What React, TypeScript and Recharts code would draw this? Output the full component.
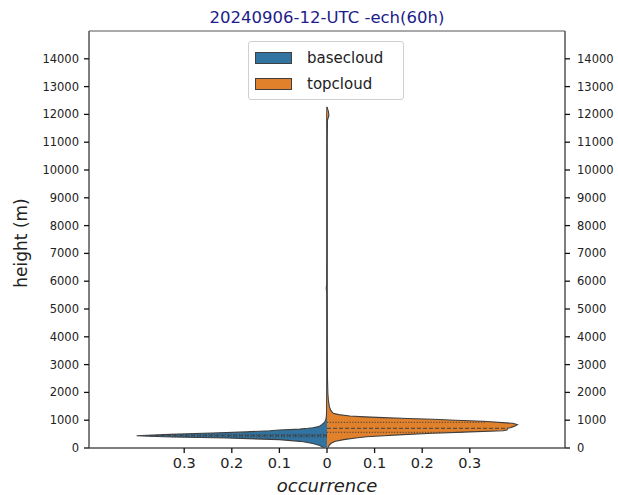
import React from 'react';
import { ComposedChart, Area, XAxis, YAxis, ReferenceLine, ReferenceArea } from 'recharts';

const title = '20240906-12-UTC -ech(60h)';
const seriesNames = ['basecloud', 'topcloud'];
const seriesColors = ['#3274a1', '#e1812c'];

// heights (m)
const heights = [0, 90, 160, 227, 240, 300, 360, 370, 405, 442, 480, 529, 540, 580, 620, 650, 680, 709, 730, 760, 790, 840, 880, 889, 961, 1000, 1033, 1060, 1091, 1120, 1152, 1200, 1249, 1350, 1486, 1700, 1968, 2500, 3500, 5000, 5600, 5750, 5900, 7000, 8500, 10000, 11000, 11800, 11950, 12100, 12200, 12270];
// occurrence density (left half violin)
const basecloud = [0.006, 0.015, 0.03, 0.05, 0.057, 0.10, 0.21, 0.24, 0.344, 0.40, 0.344, 0.26, 0.24, 0.17, 0.12, 0.10, 0.057, 0.04, 0.03, 0.02, 0.015, 0.011, 0.008, 0.0075, 0.004, 0.003, 0.0025, 0.002, 0.0018, 0.0015, 0.0013, 0.0012, 0.001, 0.0009, 0.0008, 0.0007, 0.0006, 0.0005, 0.0005, 0.0005, 0.0006, 0.0016, 0.0006, 0.0005, 0.0005, 0.0005, 0.0005, 0.0005, 0.0005, 0.0004, 0.0002, 0];
// occurrence density (right half violin)
const topcloud = [0.002, 0.004, 0.008, 0.015, 0.018, 0.035, 0.06, 0.065, 0.083, 0.12, 0.16, 0.222, 0.24, 0.30, 0.37, 0.378, 0.379, 0.38, 0.385, 0.39, 0.395, 0.40, 0.392, 0.39, 0.328, 0.27, 0.223, 0.17, 0.118, 0.08, 0.048, 0.025, 0.013, 0.008, 0.005, 0.003, 0.0018, 0.001, 0.0007, 0.0006, 0.0005, 0.0005, 0.0005, 0.0005, 0.0005, 0.0005, 0.0005, 0.001, 0.004, 0.003, 0.0012, 0];

// quartile lines: heights and widths
const baseQuartH = [400, 442, 490];
const baseQuartW = [0.33, 0.38, 0.33];
const topQuartH = [565, 709, 925];
const topQuartW = [0.285, 0.38, 0.335];

const xTicks = [-0.3, -0.2, -0.1, 0, 0.1, 0.2, 0.3];
const yTicks = [0, 1000, 2000, 3000, 4000, 5000, 6000, 7000, 8000, 9000, 10000, 11000, 12000, 13000, 14000];

const table = heights.map((h, i) => ({ h, base: -basecloud[i], top: topcloud[i] }));

const FONT = 'DejaVu Sans';
const EDGE = '#3f3f3f';

export default function App() {
  return (
    <div style={{ position: 'absolute', left: 0, top: 0, width: 618, height: 495, background: '#fff', fontFamily: FONT }}>
      <div style={{ position: 'absolute', left: 0, width: 654, top: 8, textAlign: 'center', fontSize: 16.5, color: '#1c1c8a', lineHeight: '20px' }}>{title}</div>
      <ComposedChart layout="vertical" width={618} height={495} data={table} margin={{ top: 31, right: 0, bottom: 0, left: 0 }} style={{ fontFamily: FONT }}>
        <XAxis type="number" domain={[-0.5, 0.5]} ticks={xTicks} allowDataOverflow height={47}
          tickFormatter={(v: number) => (v === 0 ? '0' : Math.abs(v).toFixed(1))}
          tick={{ fontSize: 14.5, fill: '#222' }} tickSize={5} tickMargin={5}
          tickLine={{ stroke: '#111', strokeWidth: 1.3 }} axisLine={{ stroke: '#555' }}
          label={{ value: 'occurrence', position: 'insideBottom', offset: 3, style: { fontStyle: 'italic', fontSize: 18, fill: '#222' } }} />
        <YAxis yAxisId="l" type="number" dataKey="h" domain={[0, 15000]} ticks={yTicks} allowDataOverflow reversed width={89}
          tick={{ fontSize: 11.5, fill: '#222' }} tickSize={5} tickMargin={5}
          tickLine={{ stroke: '#111', strokeWidth: 1.3 }} axisLine={{ stroke: '#555' }}
          label={{ content: () => (
            <text x={21} y={243} transform="rotate(-90 21 243)" textAnchor="middle" dominantBaseline="central" fontSize={17} fill="#222">height (m)</text>
          ) }} />
        <YAxis yAxisId="r" orientation="right" type="number" dataKey="h" domain={[0, 15000]} ticks={yTicks} allowDataOverflow reversed width={53}
          tick={{ fontSize: 11.5, fill: '#222' }} tickSize={5} tickMargin={7}
          tickLine={{ stroke: '#111', strokeWidth: 1.3 }} axisLine={{ stroke: '#555' }} />
        <ReferenceArea yAxisId="l" x1={-0.5} x2={0.5} y1={0} y2={15000} fill="#fff" fillOpacity={0} stroke="#555" strokeWidth={1} ifOverflow="visible" />
        <Area yAxisId="l" type="linear" dataKey="base" name={seriesNames[0]} fill={seriesColors[0]} fillOpacity={1} stroke={EDGE} strokeWidth={1.1} dot={false} activeDot={false} isAnimationActive={false} />
        <Area yAxisId="l" type="linear" dataKey="top" name={seriesNames[1]} fill={seriesColors[1]} fillOpacity={1} stroke={EDGE} strokeWidth={1.1} dot={false} activeDot={false} isAnimationActive={false} />
        {baseQuartH.map((h, i) => (
          <ReferenceLine key={'b' + i} yAxisId="l" segment={[{ x: 0, y: h }, { x: -baseQuartW[i], y: h }]} stroke={EDGE} strokeWidth={1} strokeDasharray={i === 1 ? '4 2' : '1.2 1.6'} ifOverflow="visible" />
        ))}
        {topQuartH.map((h, i) => (
          <ReferenceLine key={'t' + i} yAxisId="l" segment={[{ x: 0, y: h }, { x: topQuartW[i], y: h }]} stroke={EDGE} strokeWidth={1} strokeDasharray={i === 1 ? '4 2' : '1.2 1.6'} ifOverflow="visible" />
        ))}
      </ComposedChart>
      <div style={{ position: 'absolute', left: 248, top: 41, width: 156, height: 59, boxSizing: 'border-box', border: '1px solid #d0d0d0', borderRadius: 3, background: 'rgba(255,255,255,0.85)' }}>
        {seriesNames.map((n, i) => (
          <div key={n} style={{ position: 'absolute', left: 6, top: 7 + i * 26, height: 18, display: 'flex', alignItems: 'center' }}>
            <div style={{ width: 37, height: 12, background: seriesColors[i], border: '1px solid ' + EDGE, boxSizing: 'border-box' }} />
            <span style={{ marginLeft: 15, fontSize: 15, color: '#222', lineHeight: '18px' }}>{n}</span>
          </div>
        ))}
      </div>
    </div>
  );
}
